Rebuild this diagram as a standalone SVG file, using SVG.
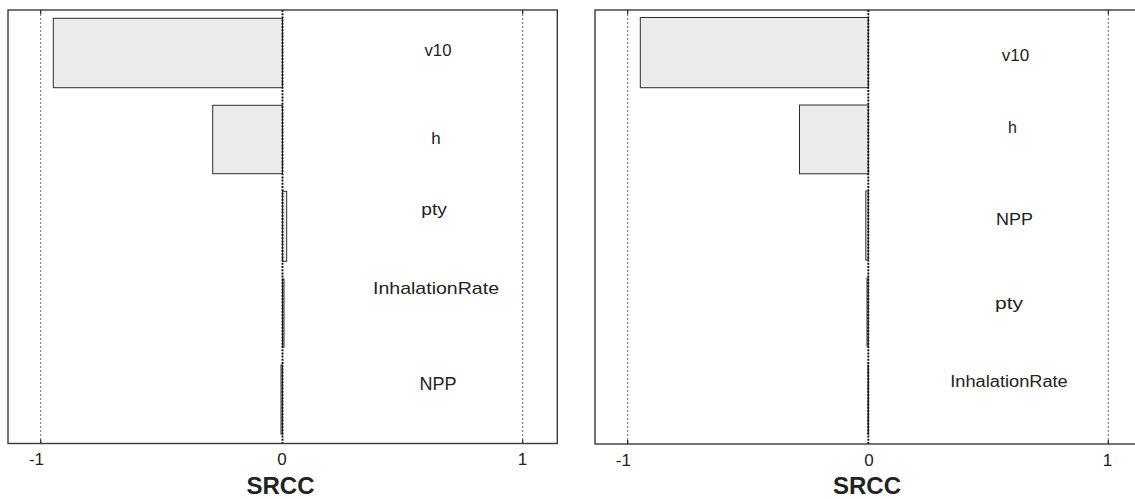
<svg xmlns="http://www.w3.org/2000/svg" width="1135" height="499" viewBox="0 0 1135 499">
  <style>
    .frame { fill: none; stroke: #3a3a3a; stroke-width: 1.4; }
    .grid { stroke: #6a6a6a; stroke-width: 1; stroke-dasharray: 2 2; fill: none; }
    .zero { stroke: #111; stroke-width: 1.9; stroke-dasharray: 2 1.2; fill: none; }
    .tick { stroke: #222; stroke-width: 1.2; }
    .bar { fill: #ebebeb; stroke: #2e2e2e; stroke-width: 1; }
    .thin { fill: #ebebeb; stroke: #333; stroke-width: 1; }
    .lbl { font-family: "Liberation Sans", Arial, sans-serif; fill: #222; text-anchor: middle; }
    .num { font-family: "Liberation Sans", Arial, sans-serif; font-size: 17px; fill: #222; text-anchor: middle; }
    .axis { font-family: "Liberation Sans", Arial, sans-serif; font-size: 24px; font-weight: bold; fill: #222; text-anchor: middle; }
  </style>

  <rect width="1135" height="499" fill="#ffffff"/>

  <!-- Left panel: SRCC tornado chart -->
  <g id="panel-left">
    <g id="left-grid">
      <line class="grid" x1="40.7" y1="10" x2="40.7" y2="443.5"/>
      <line class="grid" x1="522.7" y1="10" x2="522.7" y2="443.5"/>
      <line class="tick" x1="40.7" y1="10" x2="40.7" y2="14"/>
      <line class="tick" x1="522.7" y1="10" x2="522.7" y2="14"/>
      <line class="tick" x1="40.7" y1="439.5" x2="40.7" y2="443.5"/>
      <line class="tick" x1="522.7" y1="439.5" x2="522.7" y2="443.5"/>
    </g>
    <g id="left-bar-v10"><rect class="bar" x="53.3" y="18.3" width="229.2" height="69.4"/></g>
    <g id="left-bar-h"><rect class="bar" x="212.7" y="105.3" width="69.8" height="68.4"/></g>
    <g id="left-bar-pty"><rect class="thin" x="282.5" y="191.3" width="4.2" height="70"/></g>
    <g id="left-bar-inhalationrate"><rect class="thin" x="282.5" y="279" width="1.5" height="68" stroke="#555"/></g>
    <g id="left-bar-npp"><rect class="thin" x="281" y="365" width="1.5" height="69" stroke="#444"/></g>
    <line class="zero" x1="282.5" y1="10" x2="282.5" y2="443.5"/>
    <rect class="frame" x="8" y="10" width="549.3" height="433.5"/>

    <g id="left-labels">
      <text class="lbl" x="438" y="56" font-size="17" textLength="27" lengthAdjust="spacingAndGlyphs">v10</text>
      <text class="lbl" x="436" y="144" font-size="17">h</text>
      <text class="lbl" x="434" y="215" font-size="17" textLength="25.5" lengthAdjust="spacingAndGlyphs">pty</text>
      <text class="lbl" x="436" y="294" font-size="17" textLength="126" lengthAdjust="spacingAndGlyphs">InhalationRate</text>
      <text class="lbl" x="438" y="390" font-size="18" textLength="37" lengthAdjust="spacingAndGlyphs">NPP</text>
    </g>
    <g id="left-axis">
      <text class="num" x="36.5" y="465">-1</text>
      <text class="num" x="282" y="465">0</text>
      <text class="num" x="522.5" y="465">1</text>
      <text class="axis" x="280.5" y="494">SRCC</text>
    </g>
  </g>

  <!-- Right panel: SRCC tornado chart -->
  <g id="panel-right">
    <g id="right-grid">
      <line class="grid" x1="627.7" y1="10" x2="627.7" y2="444"/>
      <line class="grid" x1="1108.3" y1="10" x2="1108.3" y2="444"/>
      <line class="tick" x1="627.7" y1="10" x2="627.7" y2="14"/>
      <line class="tick" x1="1108.3" y1="10" x2="1108.3" y2="14"/>
      <line class="tick" x1="627.7" y1="440" x2="627.7" y2="444"/>
      <line class="tick" x1="1108.3" y1="440" x2="1108.3" y2="444"/>
    </g>
    <g id="right-bar-v10"><rect class="bar" x="640.3" y="17.5" width="228" height="70.2"/></g>
    <g id="right-bar-h"><rect class="bar" x="799.5" y="105" width="68.8" height="68.8"/></g>
    <g id="right-bar-npp"><rect class="thin" x="865.8" y="191" width="2.5" height="69" stroke="#555"/></g>
    <g id="right-bar-pty"><rect class="thin" x="867" y="278" width="1.3" height="68" stroke="#333"/></g>
    <g id="right-bar-inhalationrate"><rect class="thin" x="868" y="365" width="0.5" height="69" stroke="#555" stroke-width="0.6"/></g>
    <line class="zero" x1="868.3" y1="10" x2="868.3" y2="444"/>
    <rect class="frame" x="595" y="10" width="560" height="434"/>

    <g id="right-labels">
      <text class="lbl" x="1015.5" y="61" font-size="16" textLength="27.5" lengthAdjust="spacingAndGlyphs">v10</text>
      <text class="lbl" x="1012.5" y="133" font-size="16">h</text>
      <text class="lbl" x="1014.5" y="225" font-size="16" textLength="37" lengthAdjust="spacingAndGlyphs">NPP</text>
      <text class="lbl" x="1009" y="309" font-size="16" textLength="28" lengthAdjust="spacingAndGlyphs">pty</text>
      <text class="lbl" x="1009" y="387" font-size="16" textLength="117.5" lengthAdjust="spacingAndGlyphs">InhalationRate</text>
    </g>
    <g id="right-axis">
      <text class="num" x="623.3" y="465.5">-1</text>
      <text class="num" x="869" y="465.5">0</text>
      <text class="num" x="1107.5" y="465.5">1</text>
      <text class="axis" x="867" y="494">SRCC</text>
    </g>
  </g>
</svg>
